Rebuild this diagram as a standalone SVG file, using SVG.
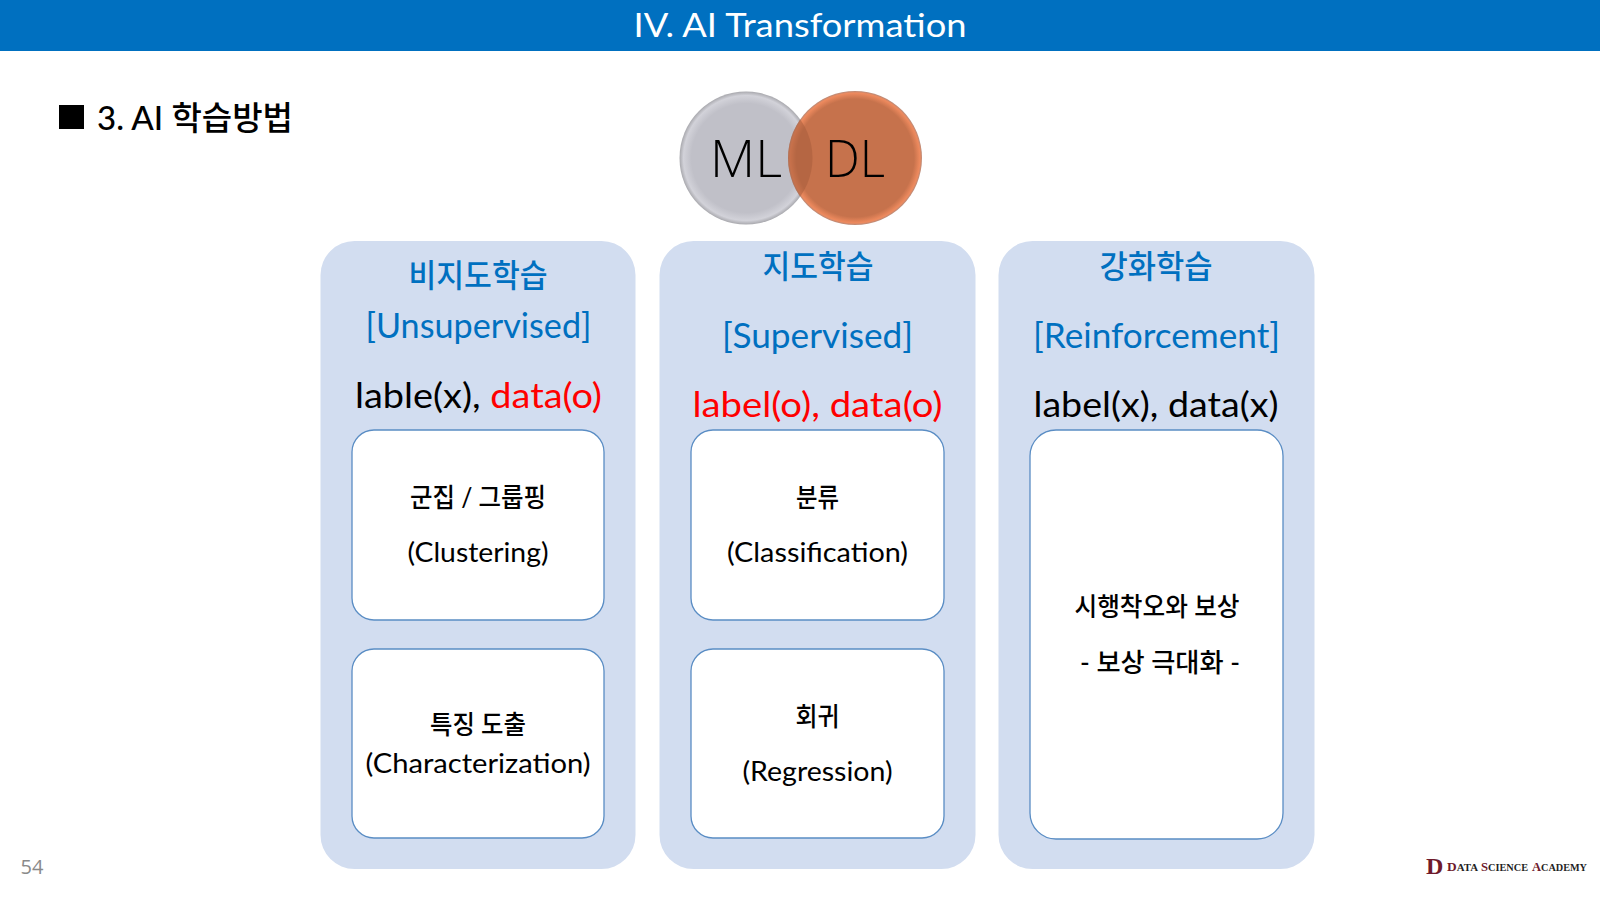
<svg xmlns="http://www.w3.org/2000/svg" width="1600" height="900" viewBox="0 0 1600 900">
<defs>
<radialGradient id="gGrey" cx="50%" cy="50%" r="50%"><stop offset="0.82" stop-color="#c0c0c8"/><stop offset="0.94" stop-color="#d2d2d9"/><stop offset="1" stop-color="#a9a9ae"/></radialGradient>
<radialGradient id="gOrange" cx="50%" cy="50%" r="50%"><stop offset="0.88" stop-color="#c6724c"/><stop offset="0.97" stop-color="#ee8a5e"/><stop offset="1" stop-color="#b98a78"/></radialGradient>
<clipPath id="mlClip"><circle cx="746" cy="158" r="66.500"/></clipPath>
</defs>
<style>
text{font-family:"Lato","Noto Sans CJK KR",sans-serif;text-anchor:middle}
.panel{fill:#d2ddf0}
.box{fill:#fff;stroke:#5a8dc4;stroke-width:1.3}
.h{fill:#0070c0;font-size:32px;font-weight:500}
.l{fill:#0070c0;font-size:35px;font-weight:400}
.k{fill:#000;font-size:34px;font-weight:400}
.r{fill:#f00}
.b{fill:#000;font-size:26px;font-weight:500}
.c{fill:#000;font-size:26px;font-weight:400}
.m{fill:#000;font-size:52px;font-weight:300;font-family:"Open Sans",sans-serif}
.s{font-family:"Liberation Serif",serif;font-weight:700;font-size:11px;fill:#1f1f1f;text-anchor:start}
.a{fill:#6f1a2b;font-size:13.500px}
</style>
<rect width="1600" height="900" fill="#fff"/>
<g id="header"><rect width="1600" height="51" fill="#0070c0"/><text x="800" y="37" fill="#fff" font-size="33" textLength="333" lengthAdjust="spacingAndGlyphs">IV. AI Transformation</text></g>
<g id="section-title"><rect x="59" y="105" width="25" height="24" fill="#000"/><text x="97" y="129.500" fill="#000" font-size="33" font-weight="500" style="text-anchor:start" textLength="196" lengthAdjust="spacingAndGlyphs">3. AI 학습방법</text></g>
<g id="ml"><circle cx="746" cy="158" r="66.500" fill="url(#gGrey)"/><text class="m" x="746" y="177" textLength="72" lengthAdjust="spacingAndGlyphs">ML</text></g>
<g id="dl"><circle cx="855" cy="158" r="67" fill="url(#gOrange)"/><circle cx="855" cy="158" r="67" fill="#a85c3c" fill-opacity="0.55" clip-path="url(#mlClip)"/><text class="m" x="855" y="177" textLength="60" lengthAdjust="spacingAndGlyphs">DL</text></g>
<g id="unsupervised">
<rect class="panel" x="320.500" y="241" width="315" height="628" rx="34"/>
<text class="h" x="478" y="286.500" textLength="139" lengthAdjust="spacingAndGlyphs">비지도학습</text>
<text class="l" x="478.500" y="337.500" textLength="226" lengthAdjust="spacingAndGlyphs">[Unsupervised]</text>
<text class="k" x="478.500" y="407.500" textLength="247" lengthAdjust="spacingAndGlyphs">lable(x), <tspan class="r">data(o)</tspan></text>
</g>
<g id="clustering"><rect class="box" x="352" y="430" width="252" height="190" rx="22"/><text class="b" x="478" y="507" textLength="136" lengthAdjust="spacingAndGlyphs">군집 / 그룹핑</text><text class="c" x="478" y="561.500" textLength="141" lengthAdjust="spacingAndGlyphs">(Clustering)</text></g>
<g id="characterization"><rect class="box" x="352" y="649" width="252" height="189" rx="22"/><text class="b" x="478" y="733.500" textLength="96" lengthAdjust="spacingAndGlyphs">특징 도출</text><text class="c" x="478" y="773" textLength="225" lengthAdjust="spacingAndGlyphs">(Characterization)</text></g>
<g id="supervised">
<rect class="panel" x="659.500" y="241" width="316" height="628" rx="34"/>
<text class="h" x="818" y="277.500" textLength="111" lengthAdjust="spacingAndGlyphs">지도학습</text>
<text class="l" x="817.500" y="347.500" textLength="191" lengthAdjust="spacingAndGlyphs">[Supervised]</text>
<text class="k r" x="817.500" y="417" textLength="250" lengthAdjust="spacingAndGlyphs">label(o), data(o)</text>
</g>
<g id="classification"><rect class="box" x="691" y="430" width="253" height="190" rx="22"/><text class="b" x="817.500" y="507" textLength="43" lengthAdjust="spacingAndGlyphs">분류</text><text class="c" x="817.500" y="561.500" textLength="181" lengthAdjust="spacingAndGlyphs">(Classification)</text></g>
<g id="regression"><rect class="box" x="691" y="649" width="253" height="189" rx="22"/><text class="b" x="817.500" y="725.500" textLength="44" lengthAdjust="spacingAndGlyphs">회귀</text><text class="c" x="817.500" y="780.500" textLength="150" lengthAdjust="spacingAndGlyphs">(Regression)</text></g>
<g id="reinforcement">
<rect class="panel" x="998.500" y="241" width="316" height="628" rx="34"/>
<text class="h" x="1156" y="277.500" textLength="113" lengthAdjust="spacingAndGlyphs">강화학습</text>
<text class="l" x="1156.500" y="347.500" textLength="247" lengthAdjust="spacingAndGlyphs">[Reinforcement]</text>
<text class="k" x="1156" y="417" textLength="245" lengthAdjust="spacingAndGlyphs">label(x), data(x)</text>
</g>
<g id="reward"><rect class="box" x="1030" y="430" width="253" height="409" rx="26"/><text class="b" x="1157" y="615.500" textLength="165" lengthAdjust="spacingAndGlyphs">시행착오와 보상</text><text class="b" x="1160" y="671.500" textLength="160" lengthAdjust="spacingAndGlyphs">- 보상 극대화 -</text></g>
<g id="footer"><text x="32" y="874" fill="#8a8a8a" font-size="20" style="font-family:'Open Sans',sans-serif">54</text>
<text x="1426" y="874" fill="#6f1a2b" font-size="24" font-weight="700" style="font-family:'Liberation Serif',serif;text-anchor:start">D</text>
<text class="s" x="1447" y="871" textLength="31" lengthAdjust="spacingAndGlyphs"><tspan class="a">D</tspan>ATA</text>
<text class="s" x="1481" y="871" textLength="47" lengthAdjust="spacingAndGlyphs"><tspan class="a">S</tspan>CIENCE</text>
<text class="s" x="1532" y="871" textLength="55" lengthAdjust="spacingAndGlyphs"><tspan class="a">A</tspan>CADEMY</text></g>
</svg>
